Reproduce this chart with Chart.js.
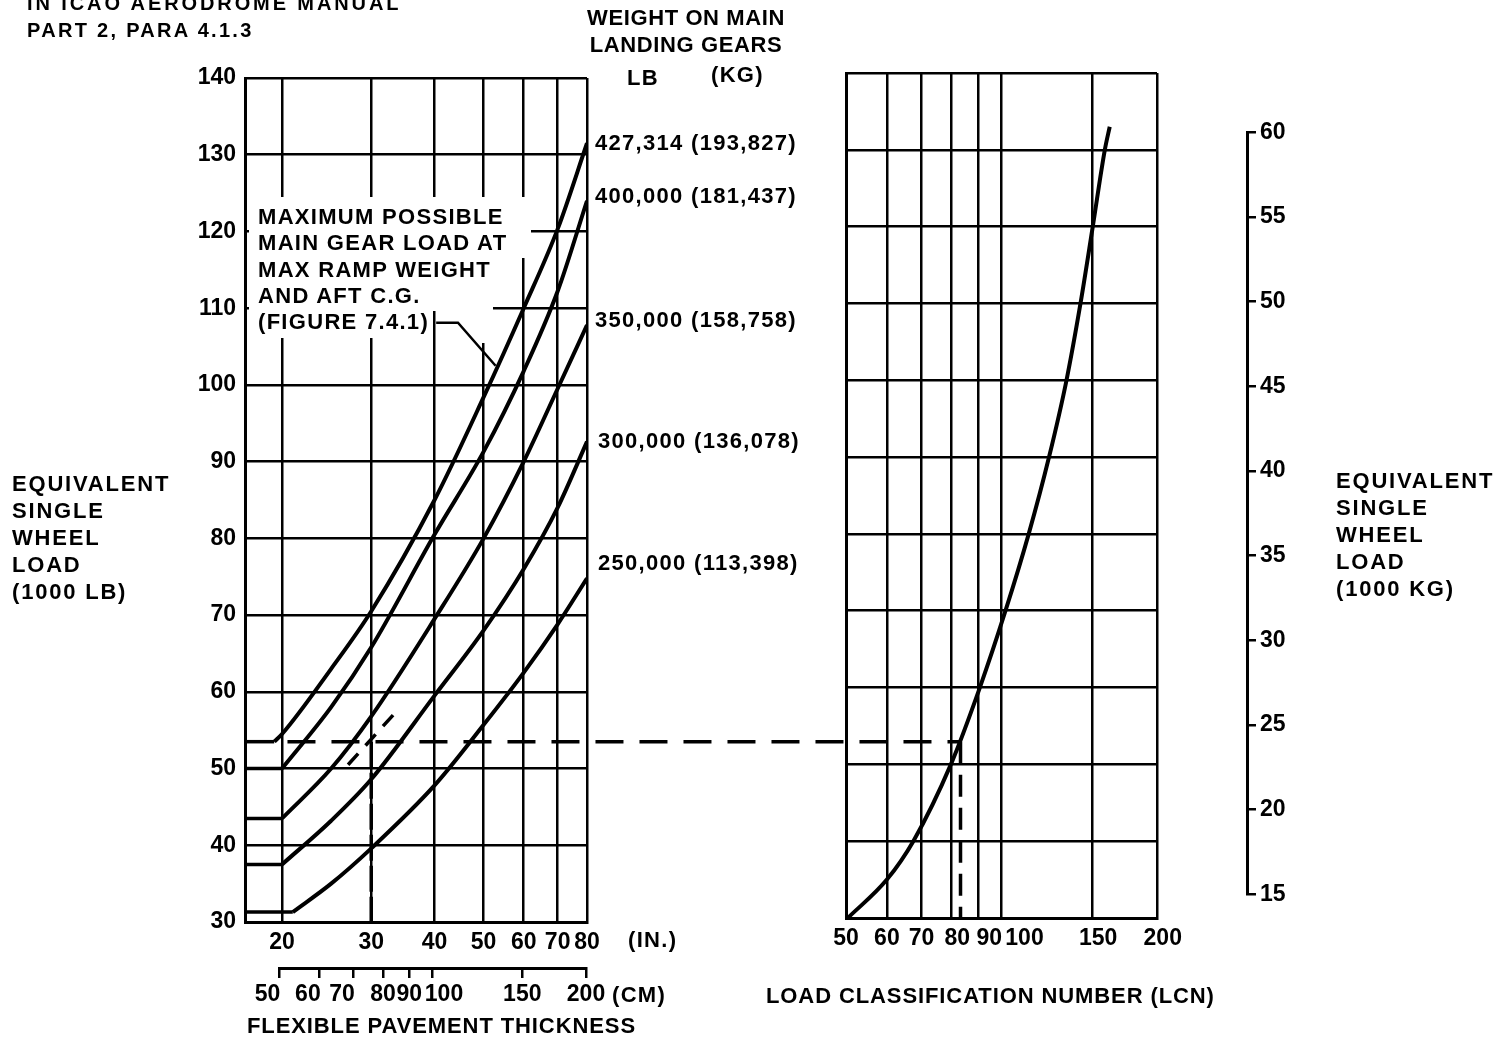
<!DOCTYPE html>
<html>
<head>
<meta charset="utf-8">
<script src="https://cdn.jsdelivr.net/npm/chart.js@4.4.1/dist/chart.umd.min.js"></script>
<style>
  html, body { margin: 0; padding: 0; background: #fff; }
  body { width: 1505px; height: 1040px; position: relative; overflow: hidden;
         font-family: 'Liberation Sans', Arial, Helvetica, sans-serif; color: #000; }
  canvas { position: absolute; left: 0; top: 0; }
  .lbl { position: absolute; font-size: 22px; line-height: 22px; letter-spacing: 1.3px;
         font-weight: bold; white-space: pre; z-index: 2; }
  .blk { line-height: 27px; }
</style>
</head>
<body>
<canvas id="leftChart" width="1505" height="1040"></canvas>
<canvas id="cmAxis" width="1505" height="1040"></canvas>
<canvas id="rightChart" width="1505" height="1040"></canvas>
<canvas id="kgAxis" width="1505" height="1040"></canvas>

<div class="lbl" style="left:27px; top:-7px; font-size:20px; line-height:20px; letter-spacing:2.9px;">IN ICAO AERODROME MANUAL</div>
<div class="lbl" style="left:27px; top:20px; font-size:20px; line-height:20px; letter-spacing:2.3px;">PART 2, PARA 4.1.3</div>

<div class="lbl blk" style="left:566px; top:4px; width:240px; text-align:center; letter-spacing:0.6px;">WEIGHT ON MAIN
LANDING GEARS</div>
<div class="lbl" style="left:627px; top:67px;">LB</div>
<div class="lbl" style="left:711px; top:64px;">(KG)</div>

<div class="lbl" style="left:595px; top:132px;">427,314 (193,827)</div>
<div class="lbl" style="left:595px; top:185px;">400,000 (181,437)</div>
<div class="lbl" style="left:595px; top:309px;">350,000 (158,758)</div>
<div class="lbl" style="left:598px; top:430px;">300,000 (136,078)</div>
<div class="lbl" style="left:598px; top:552px;">250,000 (113,398)</div>

<div class="lbl" style="left:258px; top:204px; line-height:26.3px; letter-spacing:1.3px;">MAXIMUM POSSIBLE
MAIN GEAR LOAD AT
MAX RAMP WEIGHT
AND AFT C.G.
(FIGURE 7.4.1)</div>

<div class="lbl blk" style="left:12px; top:470px; letter-spacing:1.8px;">EQUIVALENT
SINGLE
WHEEL
LOAD
(1000 LB)</div>
<div class="lbl blk" style="left:1336px; top:467px; letter-spacing:1.8px;">EQUIVALENT
SINGLE
WHEEL
LOAD
(1000 KG)</div>

<div class="lbl" style="left:628px; top:929px;">(IN.)</div>
<div class="lbl" style="left:612px; top:984px;">(CM)</div>
<div class="lbl" style="left:247px; top:1015px; letter-spacing:0.9px;">FLEXIBLE PAVEMENT THICKNESS</div>
<div class="lbl" style="left:766px; top:985px; letter-spacing:0.9px;">LOAD CLASSIFICATION NUMBER (LCN)</div>

<script>
// ---- values ----
// flexible pavement thickness (in.) and ESWL (1000 lb) for each main gear weight
const thicknessIn = [20, 25, 30, 40, 50, 60, 70, 80];
const eswl427 = [54.5, 63, 70.5, 85, 98.4, 110, 120.3, 131.5];
const eswl400 = [50, 58, 65.8, 80.5, 91.3, 101.8, 112.2, 124];
const eswl350 = [43.5, 50, 56.8, 69.5, 80, 90, 99.5, 107.8];
const eswl300 = [37.5, 43.2, 48.6, 59.5, 68, 76, 84, 92.6];
const eswl250 = [null, 35, 39.6, 47.8, 55.7, 62.5, 68.8, 74.8];
// thickness where each curve leaves its flat minimum, and that minimum
const kneeIn = [19.3, 20, 20, 20, 21];
const flatEswl = [53.5, 50, 43.5, 37.5, 31.3];

// LCN vs ESWL (1000 lb)
const lcnValues = [50.4, 60, 67.5, 79.8, 90.8, 101.8, 112.9, 123.6, 133.6, 142.2, 150.2, 158.5, 162];
const lcnEswl = [30, 35, 40, 50, 60, 70, 80, 90, 100, 110, 120, 130, 133];

// example reading (dashed)
const readStartIn = 20.5;
const readThickness = 30;
const readEswl = 53.5;
const readLcn = 83.3;
const interpIn = [27, 33.8];
const interpEswl = [50.5, 57.6];

// leader from the "maximum possible" note to the top curve
const leaderIn = [40.3, 44.5, 52.8];
const leaderEswl = [108.1, 108.1, 102.5];

// axes
const inchTicks = [20, 30, 40, 50, 60, 70, 80];
const cmTicks = [50, 60, 70, 80, 90, 100, 150, 200];
const lcnTicks = [50, 60, 70, 80, 90, 100, 150, 200];
const lbRange = [30, 140];
const kgRange = [15, 60];
const inchMin = 16.9;
const LB_PER_KG = 2.20462;

Chart.defaults.font.family = "'Liberation Sans', Arial, Helvetica, sans-serif";
Chart.defaults.font.size = 23;
Chart.defaults.font.weight = 'bold';
Chart.defaults.color = '#000';

const black = '#000';
const gridStyle = { color: black, lineWidth: 2.5, drawTicks: false };
const borderStyle = { color: black, width: 3 };
const noPlugins = { legend: { display: false }, tooltip: { enabled: false } };

function fixedTicks(list) {
    return function(scale) { scale.ticks = list.map(v => ({ value: v })); };
}
// shift crowded labels sideways with en spaces
function nudged(nudges) {
    return function(value) {
        const n = nudges[value] || 0;
        const pad = '\u2002'.repeat(Math.abs(n));
        return n > 0 ? pad + value : String(value) + pad;
    };
}
function line(points, extra) {
    return Object.assign({ data: points, borderColor: black, borderWidth: 4, pointRadius: 0, fill: false }, extra || {});
}

// white box behind the note so the grid is broken there
const textMask = {
    id: 'textMask',
    beforeDatasetsDraw(chart) {
        const ctx = chart.ctx;
        ctx.save();
        ctx.fillStyle = '#fff';
        [[249, 197, 282, 61], [249, 258, 244, 53], [249, 311, 181, 27], [476, 311, 16, 32]]
            .forEach(r => ctx.fillRect(r[0], r[1], r[2], r[3]));
        ctx.restore();
    }
};

// ---- left panel ----
const leftSeries = [eswl427, eswl400, eswl350, eswl300, eswl250];
const leftDatasets = [];
leftSeries.forEach((vals, i) => {
    leftDatasets.push(line([{ x: inchMin, y: flatEswl[i] }, { x: kneeIn[i], y: flatEswl[i] }], { borderWidth: 3.5 }));
    const pts = [{ x: kneeIn[i], y: flatEswl[i] }];
    thicknessIn.forEach((x, j) => {
        if (x > kneeIn[i] && vals[j] != null) pts.push({ x: x, y: vals[j] });
    });
    leftDatasets.push(line(pts, { cubicInterpolationMode: 'monotone' }));
});
leftDatasets.push(line(leaderIn.map((x, i) => ({ x: x, y: leaderEswl[i] })), { borderWidth: 2.5 }));
leftDatasets.push(line(interpIn.map((x, i) => ({ x: x, y: interpEswl[i] })), { borderWidth: 3.5, borderDash: [15, 11] }));
leftDatasets.push(line([{ x: readThickness, y: readEswl }, { x: readThickness, y: lbRange[0] }], { borderWidth: 3.5, borderDash: [26, 5] }));

const leftChart = new Chart(document.getElementById('leftChart'), {
    type: 'line',
    data: { datasets: leftDatasets },
    plugins: [textMask],
    options: {
        responsive: false,
        animation: false,
        events: [],
        layout: { padding: { left: 185, right: 918, top: 78, bottom: 78 } },
        plugins: noPlugins,
        scales: {
            x: {
                type: 'logarithmic', min: inchMin, max: 80,
                afterBuildTicks: fixedTicks(inchTicks),
                afterFit: s => { s.height = 40; },
                ticks: { callback: v => String(v), autoSkip: false, maxRotation: 0, padding: 7 },
                grid: gridStyle, border: borderStyle
            },
            y: {
                min: lbRange[0], max: lbRange[1],
                afterFit: s => { s.width = 60; },
                ticks: { stepSize: 10, padding: 9 },
                grid: gridStyle, border: borderStyle
            }
        }
    }
});

// ---- centimetre scale under the left panel ----
new Chart(document.getElementById('cmAxis'), {
    type: 'line',
    data: { datasets: [] },
    options: {
        responsive: false,
        animation: false,
        events: [],
        layout: { padding: { left: 279, right: 919, top: 950, bottom: 27 } },
        plugins: noPlugins,
        scales: {
            x: {
                type: 'logarithmic', min: 50, max: 200,
                afterBuildTicks: fixedTicks(cmTicks),
                afterFit: s => { s.height = 45; },
                ticks: { callback: nudged({ 50: -2, 60: -2, 70: -2, 100: 2 }), autoSkip: false, maxRotation: 0, padding: 3 },
                grid: { color: black, lineWidth: 2.5, drawOnChartArea: false, tickLength: 10 },
                border: borderStyle
            },
            y: { display: false, min: 0, max: 1 }
        }
    }
});

// ---- right panel ----
const readingPath = {
    id: 'readingPath',
    afterDatasetsDraw(chart) {
        const ctx = chart.ctx;
        const y = leftChart.scales.y.getPixelForValue(readEswl);
        const x0 = leftChart.scales.x.getPixelForValue(readStartIn);
        const x1 = chart.scales.x.getPixelForValue(readLcn);
        ctx.save();
        ctx.strokeStyle = black;
        ctx.lineWidth = 3.5;
        ctx.setLineDash([28, 16]);
        ctx.beginPath();
        ctx.moveTo(x0, y);
        ctx.lineTo(x1, y);
        ctx.stroke();
        ctx.setLineDash([22, 11]);
        ctx.beginPath();
        ctx.moveTo(x1, y);
        ctx.lineTo(x1, chart.chartArea.bottom);
        ctx.stroke();
        ctx.restore();
    }
};

const rightChart = new Chart(document.getElementById('rightChart'), {
    type: 'line',
    data: {
        datasets: [line(lcnValues.map((x, i) => ({ x: x, y: lcnEswl[i] })), { cubicInterpolationMode: 'monotone' })]
    },
    plugins: [readingPath],
    options: {
        responsive: false,
        animation: false,
        events: [],
        layout: { padding: { left: 846, right: 348, top: 73, bottom: 82 } },
        plugins: noPlugins,
        scales: {
            x: {
                type: 'logarithmic', min: 50, max: 200,
                afterBuildTicks: fixedTicks(lcnTicks),
                afterFit: s => { s.height = 40; },
                ticks: { callback: nudged({ 80: 1, 90: 2, 100: 4, 150: 1, 200: 1 }), autoSkip: false, maxRotation: 0, padding: 7 },
                grid: gridStyle, border: borderStyle
            },
            y: {
                min: lbRange[0], max: lbRange[1],
                afterFit: s => { s.width = 0; },
                ticks: { stepSize: 10, display: false },
                grid: gridStyle, border: borderStyle
            }
        }
    }
});

// ---- detached 1000 kg scale, placed with the right panel's own lb scale ----
const kgTop = rightChart.scales.y.getPixelForValue(kgRange[1] * LB_PER_KG);
const kgBottom = rightChart.scales.y.getPixelForValue(kgRange[0] * LB_PER_KG);

new Chart(document.getElementById('kgAxis'), {
    type: 'line',
    data: { datasets: [] },
    options: {
        responsive: false,
        animation: false,
        events: [],
        layout: { padding: { left: 1230, right: 198, top: kgTop, bottom: 1040 - kgBottom } },
        plugins: noPlugins,
        scales: {
            x: { display: false },
            y: {
                position: 'right', min: kgRange[0], max: kgRange[1],
                afterFit: s => { s.width = 60; },
                ticks: { stepSize: 5, padding: 4 },
                grid: { color: black, lineWidth: 2.5, drawOnChartArea: false, tickLength: 9 },
                border: borderStyle
            }
        }
    }
});
</script>
</body>
</html>
